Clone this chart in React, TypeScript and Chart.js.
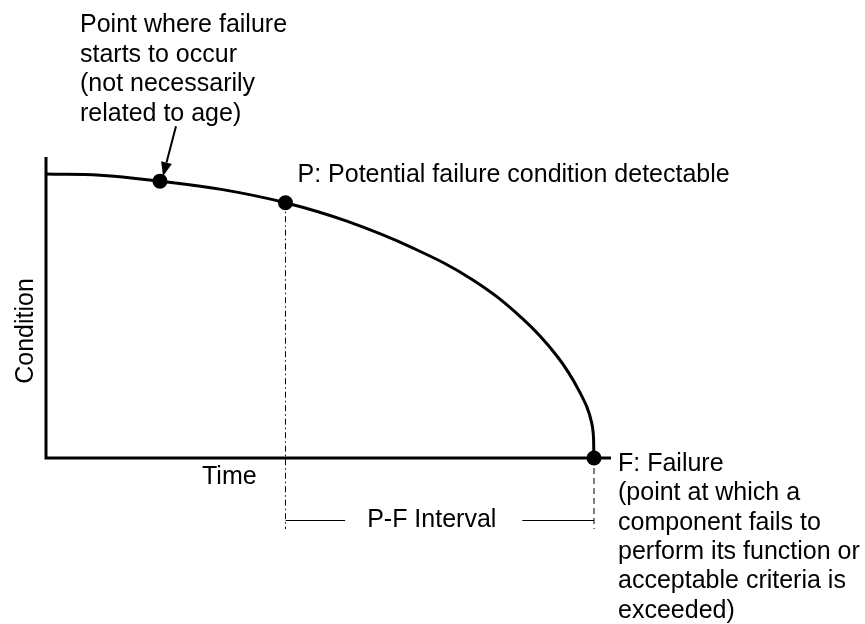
import React, { useEffect, useRef } from "react";
import { Chart, registerables } from "chart.js";

Chart.register(...registerables);

// Curve of condition vs time
const curveTime = [0, 9.9, 20.8, 32, 43.7, 54.9, 67.0, 77.9, 87.0, 93.2, 97.4, 99.6, 100];
const curveCondition = [100, 99.6, 97.5, 94.6, 89.9, 83.4, 73.9, 62.7, 49.0, 36.0, 23.2, 12.2, 0];

// Marked points: failure start, P, F
const markerTime = [20.8, 43.7, 100];
const markerCondition = [97.5, 89.9, 0];

const startLabel = ["Point where failure", "starts to occur", "(not necessarily", "related to age)"];
const pLabel = "P: Potential failure condition detectable";
const fLabel = [
  "F: Failure",
  "(point at which a",
  "component fails to",
  "perform its function or",
  "acceptable criteria is",
  "exceeded)",
];
const xTitle = "Time";
const yTitle = "Condition";
const intervalLabel = "P-F Interval";

const FONT = '25px "Liberation Sans", Arial, sans-serif';

const annotPlugin = {
  id: "annot",
  beforeDatasetsDraw(chart: any) {
    const { ctx, chartArea: a, scales } = chart;
    const xs = scales.x;
    const ys = scales.y;
    ctx.save();
    ctx.strokeStyle = "#000";
    ctx.lineCap = "butt";
    ctx.lineJoin = "miter";
    // axes
    ctx.lineWidth = 3;
    ctx.beginPath();
    ctx.moveTo(a.left, a.top);
    ctx.lineTo(a.left, a.bottom);
    ctx.lineTo(a.right, a.bottom);
    ctx.stroke();

    const px = xs.getPixelForValue(markerTime[1]);
    const py = ys.getPixelForValue(markerCondition[1]);
    const fx = xs.getPixelForValue(markerTime[2]);
    const fy = ys.getPixelForValue(markerCondition[2]);
    const lowY = a.bottom + 71;

    ctx.lineWidth = 1;
    // dash-dot from P
    ctx.setLineDash([6, 3, 1.5, 3]);
    ctx.beginPath();
    ctx.moveTo(px, py);
    ctx.lineTo(px, lowY);
    ctx.stroke();
    // dashed from F
    ctx.setLineDash([6, 4]);
    ctx.beginPath();
    ctx.moveTo(fx, fy);
    ctx.lineTo(fx, lowY);
    ctx.stroke();
    ctx.restore();
  },
  afterDatasetsDraw(chart: any) {
    const { ctx, chartArea: a, scales } = chart;
    const xs = scales.x;
    const ys = scales.y;
    ctx.save();
    ctx.fillStyle = "#000";
    ctx.strokeStyle = "#000";
    ctx.font = FONT;
    ctx.textBaseline = "alphabetic";
    ctx.textAlign = "left";

    // top-left annotation
    startLabel.forEach((t, i) => ctx.fillText(t, 80, 32 + i * 29.5));

    // arrow to failure start point
    const sx = xs.getPixelForValue(markerTime[0]);
    const sy = ys.getPixelForValue(markerCondition[0]);
    const tx = sx + 16, ty = sy - 55;
    const hx = sx + 3, hy = sy - 5;
    const ang = Math.atan2(hy - ty, hx - tx);
    const hl = 14, hw = 5.5;
    const bx = hx - hl * Math.cos(ang), by = hy - hl * Math.sin(ang);
    ctx.lineWidth = 2;
    ctx.beginPath();
    ctx.moveTo(tx, ty);
    ctx.lineTo(bx, by);
    ctx.stroke();
    ctx.beginPath();
    ctx.moveTo(hx, hy);
    ctx.lineTo(bx + hw * Math.sin(ang), by - hw * Math.cos(ang));
    ctx.lineTo(bx - hw * Math.sin(ang), by + hw * Math.cos(ang));
    ctx.closePath();
    ctx.fill();

    // P label
    const px = xs.getPixelForValue(markerTime[1]);
    const py = ys.getPixelForValue(markerCondition[1]);
    ctx.fillText(pLabel, px + 12, py - 21);

    // F label
    const fx = xs.getPixelForValue(markerTime[2]);
    const fy = ys.getPixelForValue(markerCondition[2]);
    fLabel.forEach((t, i) => ctx.fillText(t, fx + 24, fy + 13 + i * 29.3));

    // axis titles
    ctx.fillText(xTitle, 202, a.bottom + 26);
    ctx.save();
    ctx.translate(a.left - 13, a.bottom - 127);
    ctx.rotate(-Math.PI / 2);
    ctx.textAlign = "center";
    ctx.fillText(yTitle, 0, 0);
    ctx.restore();

    // P-F interval
    const iy = a.bottom + 62;
    const tw = ctx.measureText(intervalLabel).width;
    const cx = (px + fx) / 2 - 8;
    ctx.textAlign = "center";
    ctx.textBaseline = "middle";
    ctx.fillText(intervalLabel, cx, iy);
    ctx.lineWidth = 1;
    ctx.beginPath();
    ctx.moveTo(px, iy + 0.5);
    ctx.lineTo(cx - tw / 2 - 22, iy + 0.5);
    ctx.moveTo(cx + tw / 2 + 26, iy + 0.5);
    ctx.lineTo(fx, iy + 0.5);
    ctx.stroke();
    ctx.restore();
  },
};

export default function App() {
  const ref = useRef<HTMLCanvasElement | null>(null);
  useEffect(() => {
    document.body.style.margin = "0";
    const canvas = ref.current;
    if (!canvas) return;
    const chart = new Chart(canvas, {
      type: "scatter",
      data: {
        datasets: [
          {
            data: markerTime.map((t, i) => ({ x: t, y: markerCondition[i] })),
            pointRadius: 7.5,
            pointHoverRadius: 7.5,
            backgroundColor: "#000",
            borderWidth: 0,
            showLine: false,
            order: 0,
            clip: false as any,
          },
          {
            data: curveTime.map((t, i) => ({ x: t, y: curveCondition[i] })),
            showLine: true,
            borderColor: "#000",
            borderWidth: 3,
            pointRadius: 0,
            pointHoverRadius: 0,
            tension: 0.4,
            fill: false,
            order: 1,
            clip: false as any,
          },
        ],
      },
      options: {
        responsive: false,
        animation: false,
        events: [],
        layout: { padding: { left: 46, top: 157, right: 254, bottom: 166 } },
        plugins: { legend: { display: false }, tooltip: { enabled: false } },
        scales: {
          x: { type: "linear", min: 0, max: 103.1, display: false },
          y: { type: "linear", min: 0, max: 106, display: false },
        },
      },
      plugins: [annotPlugin],
    });
    return () => chart.destroy();
  }, []);
  return (
    <div style={{ width: 865, height: 624, background: "#fff" }}>
      <canvas ref={ref} width={865} height={624} style={{ display: "block" }} />
    </div>
  );
}
